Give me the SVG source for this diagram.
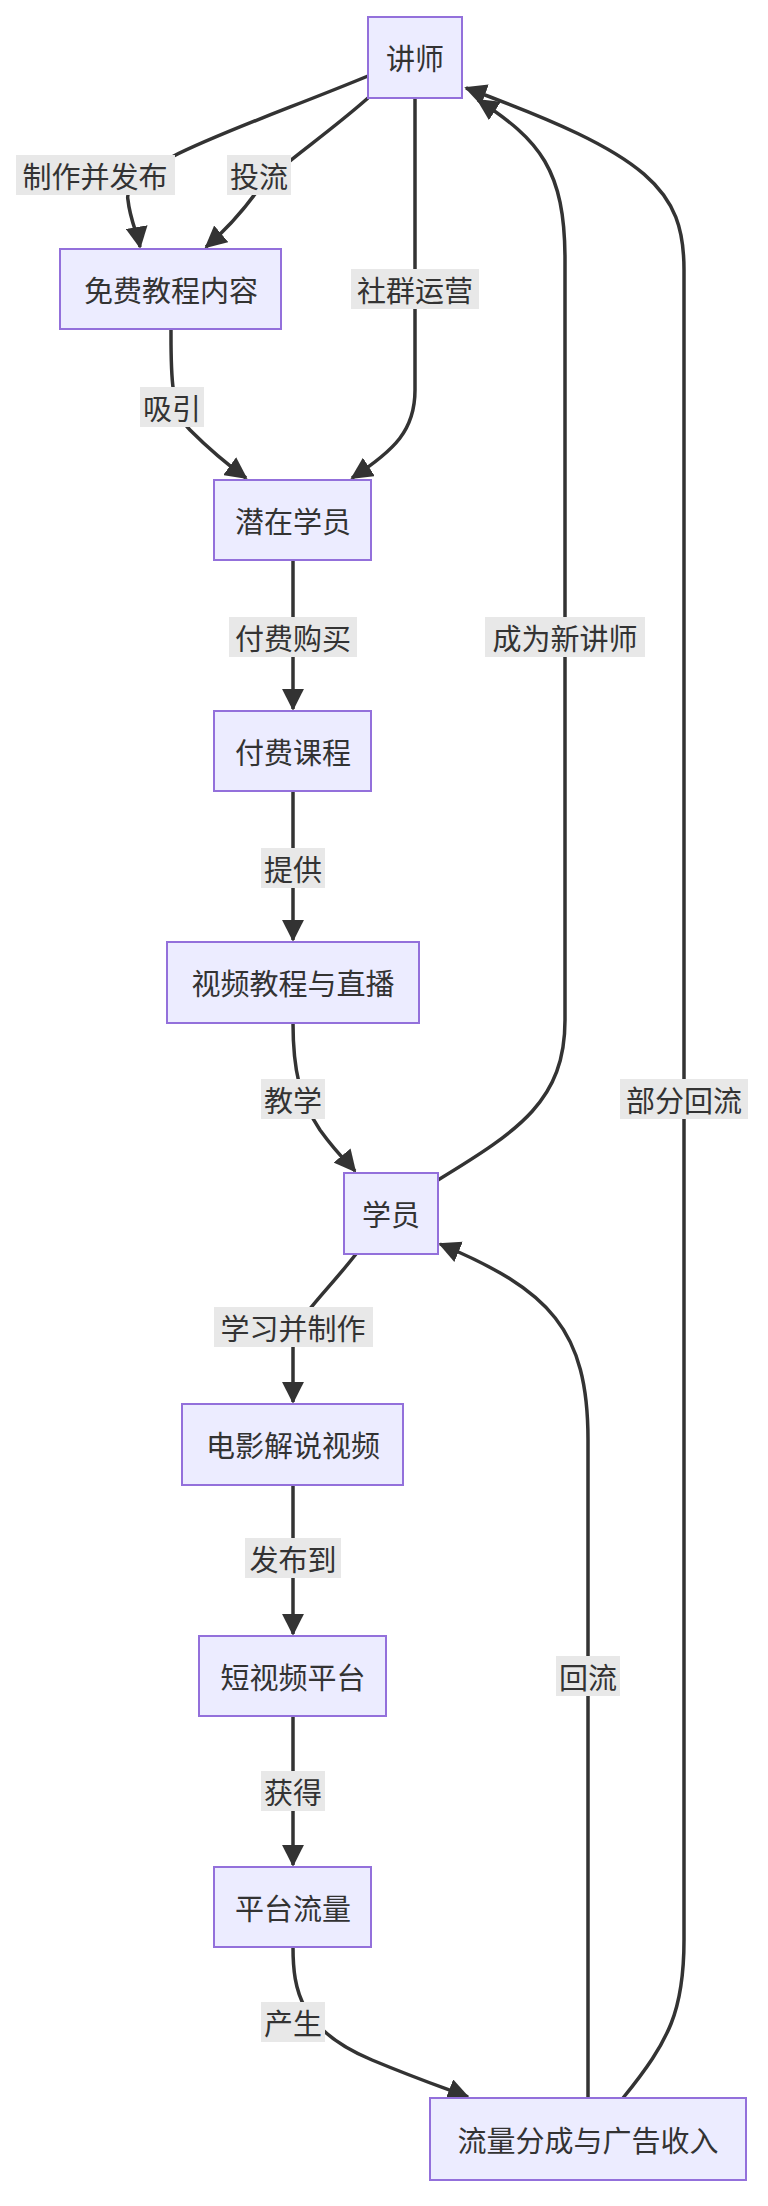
<svg xmlns="http://www.w3.org/2000/svg" width="768" height="2206" viewBox="0 0 768 2206">
<style>
.n rect{fill:#ECECFF;stroke:#9370DB;stroke-width:2}
text{font-family:"Noto Sans CJK SC","Noto Sans",sans-serif;font-size:29px;fill:#333;text-anchor:middle;dominant-baseline:central}
.e path{fill:none;stroke:#333;stroke-width:3.5}
.l rect{fill:#e8e8e8}
</style>
<defs><marker id="m" viewBox="0 0 12 12" refX="11" refY="6" markerWidth="22" markerHeight="22" orient="auto" markerUnits="userSpaceOnUse"><path d="M0,0L12,6L0,12z" fill="#333"/></marker></defs>
<g class="e">
<path d="M368,76 C250,125 120,165 128,200 C130,220 138,235 140,247" marker-end="url(#m)"/>
<path d="M368,98 C320,140 280,165 258,190 C240,215 220,235 206,247" marker-end="url(#m)"/>
<path d="M415,98 L415,390 C415,430 395,450 352,478" marker-end="url(#m)"/>
<path d="M171,329 C171,370 170,410 190,430 C215,455 235,470 246,478" marker-end="url(#m)"/>
<path d="M293,560 L293,709" marker-end="url(#m)"/>
<path d="M293,791 L293,940" marker-end="url(#m)"/>
<path d="M293,1023 C293,1070 300,1100 320,1130 C338,1155 350,1165 355,1171" marker-end="url(#m)"/>
<path d="M438,1180 C520,1130 565,1100 565,1020 L565,260 C565,170 540,140 478,100" marker-end="url(#m)"/>
<path d="M623,2098 C670,2040 684,2010 684,1940 L684,270 C684,190 650,155 466,88" marker-end="url(#m)"/>
<path d="M356,1254 C320,1300 293,1320 293,1345 L293,1402" marker-end="url(#m)"/>
<path d="M293,1485 L293,1634" marker-end="url(#m)"/>
<path d="M293,1716 L293,1865" marker-end="url(#m)"/>
<path d="M293,1947 C293,1990 300,2030 372,2060 C420,2080 450,2090 468,2097" marker-end="url(#m)"/>
<path d="M588,2098 L588,1440 C588,1330 550,1290 440,1244" marker-end="url(#m)"/>
</g>
<g class="l">
<g><rect x="16" y="155" width="159" height="40"/><text x="95" y="175">制作并发布</text></g>
<g><rect x="227" y="155" width="64" height="40"/><text x="259" y="175">投流</text></g>
<g><rect x="351" y="269" width="128" height="40"/><text x="415" y="289">社群运营</text></g>
<g><rect x="140" y="387" width="64" height="40"/><text x="172" y="407">吸引</text></g>
<g><rect x="229" y="617" width="128" height="40"/><text x="293" y="637">付费购买</text></g>
<g><rect x="261" y="848" width="64" height="40"/><text x="293" y="868">提供</text></g>
<g><rect x="261" y="1079" width="64" height="40"/><text x="293" y="1099">教学</text></g>
<g><rect x="485" y="617" width="160" height="40"/><text x="565" y="637">成为新讲师</text></g>
<g><rect x="620" y="1079" width="128" height="40"/><text x="684" y="1099">部分回流</text></g>
<g><rect x="214" y="1307" width="159" height="40"/><text x="293" y="1327">学习并制作</text></g>
<g><rect x="245" y="1538" width="96" height="40"/><text x="293" y="1558">发布到</text></g>
<g><rect x="261" y="1771" width="64" height="40"/><text x="293" y="1791">获得</text></g>
<g><rect x="261" y="2002" width="64" height="40"/><text x="293" y="2022">产生</text></g>
<g><rect x="556" y="1656" width="64" height="40"/><text x="588" y="1676">回流</text></g>
</g>
<g class="n" id="n1"><rect x="368" y="17" width="94" height="81"/><text x="415" y="57">讲师</text></g>
<g class="n" id="n2"><rect x="60" y="249" width="221" height="80"/><text x="171" y="289">免费教程内容</text></g>
<g class="n" id="n3"><rect x="214" y="480" width="157" height="80"/><text x="293" y="520">潜在学员</text></g>
<g class="n" id="n4"><rect x="214" y="711" width="157" height="80"/><text x="293" y="751">付费课程</text></g>
<g class="n" id="n5"><rect x="167" y="942" width="252" height="81"/><text x="293" y="982">视频教程与直播</text></g>
<g class="n" id="n6"><rect x="344" y="1173" width="94" height="81"/><text x="391" y="1213">学员</text></g>
<g class="n" id="n7"><rect x="182" y="1404" width="221" height="81"/><text x="293" y="1444">电影解说视频</text></g>
<g class="n" id="n8"><rect x="199" y="1636" width="187" height="80"/><text x="293" y="1676">短视频平台</text></g>
<g class="n" id="n9"><rect x="214" y="1867" width="157" height="80"/><text x="293" y="1907">平台流量</text></g>
<g class="n" id="n10"><rect x="430" y="2098" width="316" height="82"/><text x="588" y="2139">流量分成与广告收入</text></g>
</svg>
